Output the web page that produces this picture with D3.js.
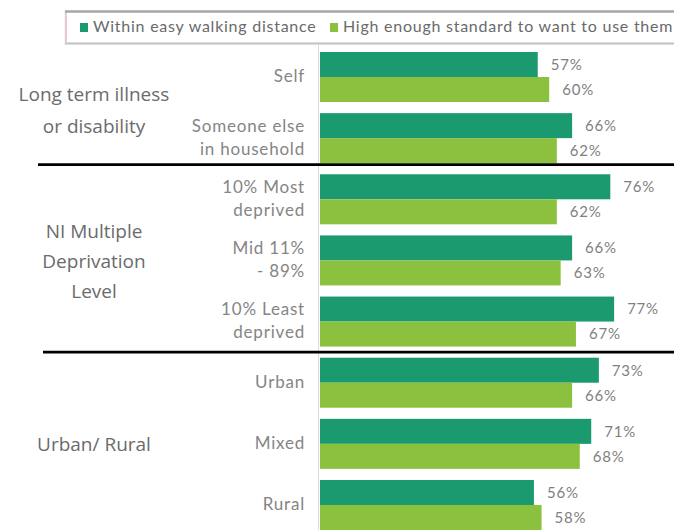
<!DOCTYPE html>
<html>
<head>
<meta charset="utf-8">
<script src="https://cdn.jsdelivr.net/npm/d3@7"></script>
<style>
  html, body { margin: 0; padding: 0; background: #ffffff; }
  svg { display: block; }
</style>
</head>
<body>
<svg id="chart" width="674" height="530"></svg>
<script>
// ---- data ----
const categories = ["Self", "Someone else|in household", "10% Most|deprived", "Mid 11%|- 89%", "10% Least|deprived", "Urban", "Mixed", "Rural"];
const walkingValues = [57, 66, 76, 66, 77, 73, 71, 56];
const standardValues = [60, 62, 62, 63, 67, 66, 68, 58];
const seriesNames = ["Within easy walking distance", "High enough standard to want to use them"];
const groupLabels = ["Long term illness|or disability", "NI Multiple|Deprivation|Level", "Urban/ Rural"];
const groupMembers = [["Self", "Someone else|in household"], ["10% Most|deprived", "Mid 11%|- 89%", "10% Least|deprived"], ["Urban", "Mixed", "Rural"]];

const colors = ["#1b9a6f", "#8cc03f"];

const svg = d3.select("#chart");
const W = 674, H = 530;

// scales
const x = d3.scaleLinear().domain([0, 100]).range([320, 702]);
const y = d3.scaleBand().domain(categories).range([46.44, 535.56]).paddingInner(0.182).paddingOuter(0.091);
const ySub = d3.scaleBand().domain([0, 1]).range([0, y.bandwidth()]);

// legend box
const legend = svg.append("g");
legend.append("rect").attr("x", 65.5).attr("y", 11.5).attr("width", 620).attr("height", 32)
  .attr("fill", "#ffffff").attr("stroke", "#d4d4d4").attr("stroke-width", 1.5);
legend.append("line").attr("x1", 66).attr("x2", 66).attr("y1", 13).attr("y2", 42)
  .attr("stroke", "#ecc9cf").attr("stroke-width", 2);
legend.append("line").attr("x1", 65).attr("x2", 674).attr("y1", 11.5).attr("y2", 11.5)
  .attr("stroke", "#a8a8a8").attr("stroke-width", 2.5);
legend.append("line").attr("x1", 65).attr("x2", 674).attr("y1", 43.5).attr("y2", 43.5)
  .attr("stroke", "#c4c4c4").attr("stroke-width", 2);
const legendX = [80, 330];
seriesNames.forEach((name, i) => {
  legend.append("rect").attr("x", legendX[i]).attr("y", 23).attr("width", 8).attr("height", 9).attr("fill", colors[i]);
  legend.append("text").attr("x", legendX[i] + 13).attr("y", 28).attr("dominant-baseline", "middle")
    .attr("font-family", "Lato, 'Open Sans', sans-serif").attr("font-size", 16).attr("letter-spacing", 0.75)
    .attr("fill", "#6a6a6a").text(name);
});

// axis line
svg.append("line").attr("x1", 318.5).attr("x2", 318.5).attr("y1", 45).attr("y2", H)
  .attr("stroke", "#dcdcdc").attr("stroke-width", 1);

// bars
const series = [walkingValues, standardValues];
series.forEach((vals, si) => {
  svg.append("g").selectAll("rect").data(categories).join("rect")
    .attr("x", x(0))
    .attr("y", (c) => y(c) + ySub(si))
    .attr("width", (c, i) => x(vals[i]) - x(0))
    .attr("height", ySub.bandwidth())
    .attr("fill", colors[si]);
  svg.append("g").selectAll("text").data(categories).join("text")
    .attr("x", (c, i) => x(vals[i]) + 13)
    .attr("y", (c) => y(c) + ySub(si) + ySub.bandwidth() / 2 + 1.5)
    .attr("dominant-baseline", "middle")
    .attr("font-family", "Lato, 'Open Sans', sans-serif").attr("font-size", 15).attr("letter-spacing", 0.8)
    .attr("fill", "#7f7f7f")
    .text((c, i) => vals[i] + "%");
});

// category labels
const catG = svg.append("g");
categories.forEach((c) => {
  const lines = c.split("|");
  const cy = y(c) + y.bandwidth() / 2;
  lines.forEach((ln, li) => {
    catG.append("text")
      .attr("x", 305)
      .attr("y", cy + (li - (lines.length - 1) / 2) * 23 + 1)
      .attr("text-anchor", "end").attr("dominant-baseline", "middle")
      .attr("font-family", "Lato, 'Open Sans', sans-serif").attr("font-size", 17).attr("letter-spacing", 0.8)
      .attr("fill", "#858585").text(ln);
  });
});

// group labels
const groupSpacing = [32, 30, 30];
groupLabels.forEach((g, gi) => {
  const mem = groupMembers[gi];
  const top = y(mem[0]);
  const bot = y(mem[mem.length - 1]) + y.bandwidth();
  const mid = (top + bot) / 2 + (gi === 0 ? 4 : 2);
  const lines = g.split("|");
  lines.forEach((ln, li) => {
    svg.append("text")
      .attr("x", 94)
      .attr("y", mid + (li - (lines.length - 1) / 2) * groupSpacing[gi])
      .attr("text-anchor", "middle").attr("dominant-baseline", "middle")
      .attr("font-family", "'Open Sans', sans-serif").attr("font-size", 19)
      .attr("fill", "#6b6b6b").text(ln);
  });
});

// divider lines
const div1 = y(categories[1]) + y.bandwidth() + 1.5;
const div2 = (y(categories[4]) + y.bandwidth() + y(categories[5])) / 2;
svg.append("line").attr("x1", 38).attr("x2", W).attr("y1", div1).attr("y2", div1)
  .attr("stroke", "#000").attr("stroke-width", 2.6);
svg.append("line").attr("x1", 43).attr("x2", W).attr("y1", div2).attr("y2", div2)
  .attr("stroke", "#000").attr("stroke-width", 2.6);
</script>
</body>
</html>
